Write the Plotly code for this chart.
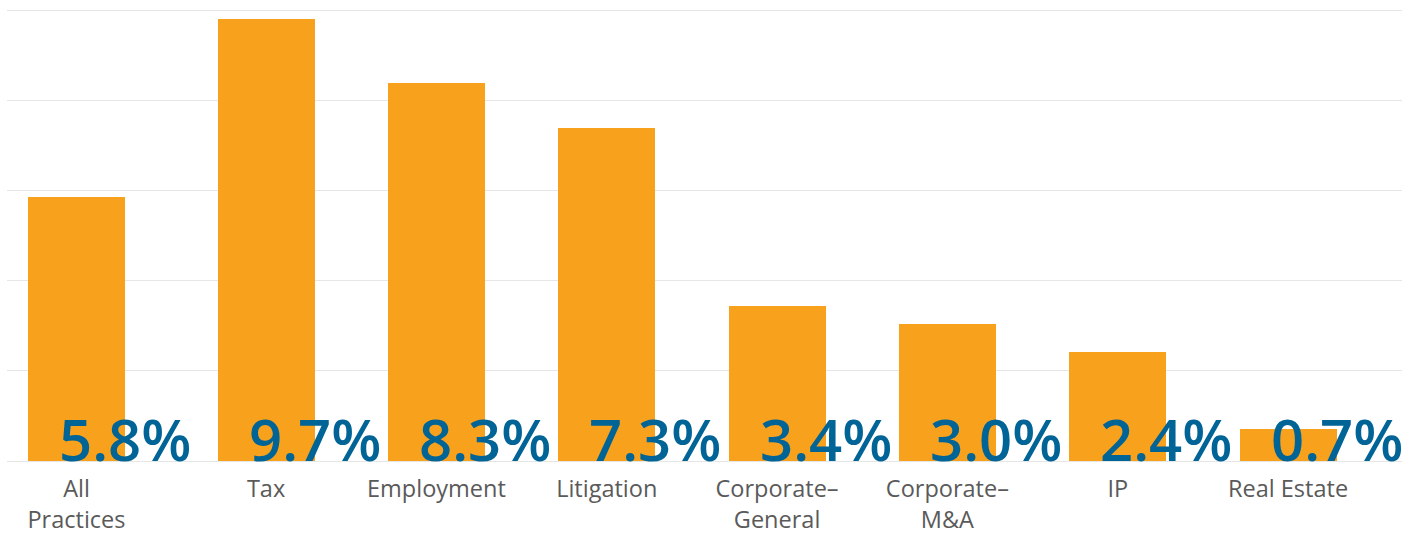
import numpy as np
import plotly.graph_objects as go

categories = ["All Practices", "Tax", "Employment", "Litigation",
              "Corporate–General", "Corporate–M&A", "IP", "Real Estate"]
tick_labels = ["All<br>Practices", "Tax", "Employment", "Litigation",
               "Corporate–<br>General", "Corporate–<br>M&A", "IP", "Real Estate"]
values = [5.8, 9.7, 8.3, 7.3, 3.4, 3.0, 2.4, 0.7]

ORANGE = "#F7A11C"
BLUE = "#006497"
GREY_TEXT = "#5a5a5a"
GRID = "#e6e6e6"

bar_width = 0.57
group_gap = 0.113  # extra space separating "All Practices" from the practice groups
idx = np.arange(len(categories))
pos = idx + np.where(idx > 0, group_gap, 0.0)

fig = go.Figure()
fig.add_trace(go.Bar(
    x=pos, y=values, width=bar_width,
    marker=dict(color=ORANGE, line=dict(width=0)),
    hoverinfo="skip", showlegend=False,
))

for p, v in zip(pos, values):
    fig.add_annotation(
        x=p + bar_width / 2, y=0, xref="x", yref="y",
        text=f"{v:.1f}%", showarrow=False,
        xanchor="center", yanchor="bottom", yshift=-19,
        font=dict(family="Open Sans", size=58, color=BLUE, weight=600),
    )

fig.update_layout(
    width=1415, height=534,
    margin=dict(l=7, r=13, t=8, b=73),
    plot_bgcolor="white", paper_bgcolor="white",
    bargap=0,
    xaxis=dict(
        range=[-0.408, 7.782],
        tickmode="array", tickvals=pos, ticktext=tick_labels,
        showgrid=False, zeroline=False, showline=False,
        ticks="outside", ticklen=7, tickcolor="rgba(0,0,0,0)",
        tickfont=dict(family="Open Sans", size=23.5, color=GREY_TEXT),
        automargin=False,
        fixedrange=True,
    ),
    yaxis=dict(
        range=[0, 9.944], tick0=0, dtick=1.98,
        showgrid=True, gridcolor=GRID, gridwidth=1,
        zeroline=True, zerolinecolor=GRID, zerolinewidth=1,
        showticklabels=False, showline=False,
        automargin=False,
        fixedrange=True,
    ),
)

fig.write_html("out.html")
